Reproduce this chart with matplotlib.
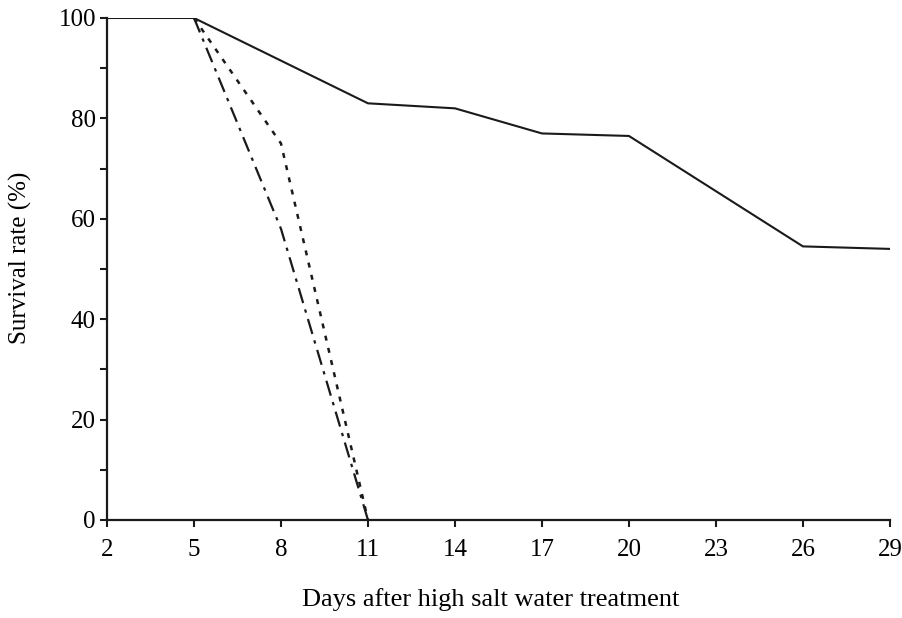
import numpy as np
from matplotlib import pyplot as plt

# survival rate (%)
days_ctrl = [2, 5, 11, 14, 17, 20, 26, 29]
surv_ctrl = [100, 100, 83, 82, 77, 76.5, 54.5, 54]
days_dot = [5, 8, 11]
surv_dot = [100, 75, 0]
days_dash = [5, 8, 11]
surv_dash = [100, 58, 0]

xticks = [2, 5, 8, 11, 14, 17, 20, 23, 26, 29]
yticks = [0, 20, 40, 60, 80, 100]

plt.rcParams['font.family'] = ['Liberation Serif', 'DejaVu Serif']

fig = plt.figure(figsize=(9.03, 6.18), dpi=100)
ax = fig.add_axes([0.1185, 0.1586, 0.867, 0.8123])

ax.plot(days_ctrl, surv_ctrl, color='#1a1a1a', lw=1.5, solid_joinstyle='miter')
ax.plot(days_dot, surv_dot, color='#1a1a1a', lw=1.8, linestyle=(0, (2, 3)))
ax.plot(days_dash, surv_dash, color='#1a1a1a', lw=1.6, linestyle=(0, (7, 3, 1.5, 3)))

ax.set_xlim(2, 29)
ax.set_ylim(0, 100)
ax.set_xticks(xticks)
ax.set_yticks(yticks)
ax.set_yticks(np.arange(10, 100, 20), minor=True)

for s in ['top', 'right']:
    ax.spines[s].set_visible(False)
for s in ['left', 'bottom']:
    ax.spines[s].set_linewidth(1.6)
    ax.spines[s].set_color('#1a1a1a')

ax.tick_params(axis='both', which='both', direction='out', length=5, width=1.5,
               color='#1a1a1a', labelsize=18)
ax.tick_params(axis='x', pad=9)
ax.tick_params(axis='y', pad=3)

ax.set_xlabel('Days after high salt water treatment', fontsize=19)
ax.set_ylabel('Survival rate (%)', fontsize=18)
ax.xaxis.set_label_coords(0.49, -0.135)
ax.yaxis.set_label_coords(-0.096, 0.522)

plt.savefig('out.png', dpi=100)
